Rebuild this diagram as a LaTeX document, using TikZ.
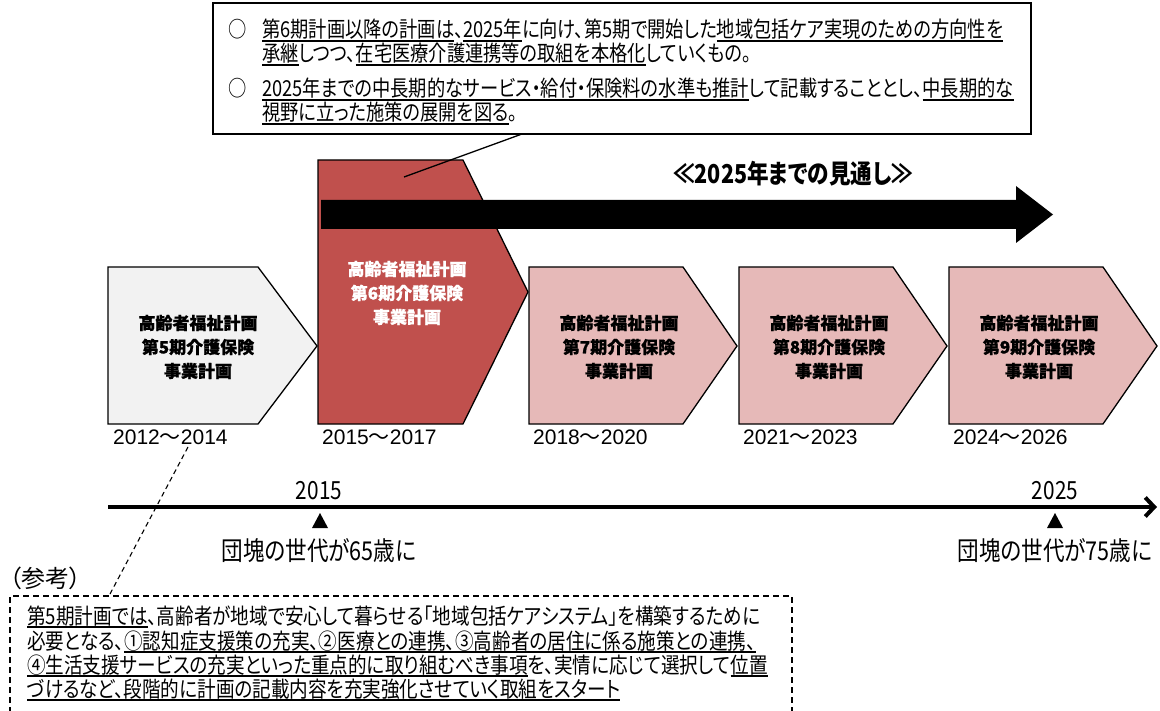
\documentclass[tikz,border=0pt]{standalone}
\usepackage{fontspec}
\usetikzlibrary{arrows.meta}
\setmainfont{Liberation Sans}
\newfontfamily\cjk{Noto Sans CJK JP}[BoldFeatures={FakeBold=0.8}]
\newfontfamily\cjkn{Noto Sans CJK JP}[FakeStretch=0.83, RawFeature=+palt]
\newfontfamily\cjkw{Noto Sans CJK JP}[FakeStretch=0.845, RawFeature=+palt]
\newfontfamily\cjkp{Noto Sans CJK JP}[RawFeature=+palt]
\newsavebox\ulbox
\newcommand\ul[1]{\sbox\ulbox{#1}\rlap{\rule[-4.2pt]{\wd\ulbox}{1.8pt}}\usebox\ulbox}
\definecolor{plangray}{HTML}{F2F2F2}
\definecolor{planred}{HTML}{C0504D}
\definecolor{planpink}{HTML}{E6B9B8}
\tikzset{
  plan/.style={draw=black, line width=1.3pt, line join=miter},
  tx/.style={inner sep=0pt, anchor=base west, font=\cjkn\fontsize{22}{26}\selectfont},
  rtx/.style={inner sep=0pt, anchor=base west, font=\cjkw\fontsize{22}{26}\selectfont},
  boxtx/.style={inner sep=0pt, align=center, font=\cjk\bfseries\fontsize{17}{24}\selectfont},
  yr/.style={inner sep=0pt, anchor=base west, font=\fontsize{21}{24}\selectfont},
  big/.style={inner sep=0pt, anchor=base, font=\cjkn\fontsize{26}{30}\selectfont},
}
\begin{document}
\begin{tikzpicture}[x=1pt,y=-1pt]
\useasboundingbox (0,0) rectangle (1160,711);
\fill[white] (0,0) rectangle (1160,711);

% plan pentagons
\draw[plan, fill=plangray] (108,267) -- (258,267) -- (317,346) -- (258,424) -- (108,424) -- cycle;
\draw[plan, fill=planred] (318,160) -- (463,160) -- (528,292) -- (463,424) -- (318,424) -- cycle;
\foreach \L in {529,739,949}{
  \draw[plan, fill=planpink] (\L,267) -- (\L+154,267) -- (\L+208,346) -- (\L+154,424) -- (\L,424) -- cycle;
}

% box texts
\node[boxtx] (p5) at (198,347) {高齢者福祉計画\\第5期介護保険\\事業計画};
\node[boxtx, text=white] (p6) at (407,293) {高齢者福祉計画\\第6期介護保険\\事業計画};
\node[boxtx] (p7) at (619,347) {高齢者福祉計画\\第7期介護保険\\事業計画};
\node[boxtx] (p8) at (829,347) {高齢者福祉計画\\第8期介護保険\\事業計画};
\node[boxtx] (p9) at (1039,347) {高齢者福祉計画\\第9期介護保険\\事業計画};

% year labels
\node[yr] (y5) at (113,444) {2012{\cjk ～}2014};
\node[yr] (y6) at (322,444) {2015{\cjk ～}2017};
\node[yr] (y7) at (533,444) {2018{\cjk ～}2020};
\node[yr] (y8) at (743,444) {2021{\cjk ～}2023};
\node[yr] (y9) at (953,444) {2024{\cjk ～}2026};

% big arrow
\fill[black] (321,200) -- (1016,200) -- (1016,186) -- (1053,214.5) -- (1016,243) -- (1016,229) -- (321,229) -- cycle;
\node[big, font=\cjkn\bfseries\fontsize{26}{30}\selectfont] (ttl) at (793,184) {≪2025年までの見通し≫};

% top note box
\node[draw=black, line width=2pt, fill=white, minimum width=818pt, minimum height=131pt, anchor=north west, inner sep=0pt] (note) at (212,2) {};
\coordinate (ctip) at (404,177);
\coordinate (cbase) at (522,134);
\draw[line width=1.3pt] (ctip) -- (cbase);

\node[tx, anchor=base] (b1) at (238,38) {○};
\node[tx] (n1) at (262,38) {\ul{第6期計画以降の計画は}、\ul{2025年}に向け、第5期で開始した\ul{地域包括ケア実現のための方向性を}};
\node[tx] (n2) at (262,62) {\ul{承継}しつつ、\ul{在宅医療介護連携等の取組を本格化}していくもの。};
\node[tx, anchor=base] (b2) at (238,97) {○};
\node[tx] (n3) at (262,97) {\ul{2025年までの中長期的なサービス・給付・保険料の水準も推計}して記載することとし、\ul{中長期的な}};
\node[tx] (n4) at (262,121) {\ul{視野に立った施策の展開を図る}。};

% timeline
\coordinate (tl0) at (108,507);
\coordinate (tl1) at (1157,507);
\draw[line width=4pt, -{Straight Barb[length=9pt,width=19pt]}] (tl0) -- (tl1);
\node[big, font=\cjkn\fontsize{25}{28}\selectfont] (d15) at (319,499) {2015};
\node[big, font=\cjkn\fontsize{25}{28}\selectfont] (d25) at (1055,499) {2025};
\fill (320,513) -- (328,528) -- (312,528) -- cycle;
\fill (1055,513) -- (1063,528) -- (1047,528) -- cycle;
\node[big] (g65) at (319,560) {団塊の世代が65歳に};
\node[big] (g75) at (1055,560) {団塊の世代が75歳に};

% reference
\coordinate (rA) at (188,447);
\coordinate (rB) at (110,594);
\draw[line width=1.1pt, dash pattern=on 5pt off 3.5pt] (rA) -- (rB);
\node[inner sep=0pt, anchor=base west, font=\cjkp\fontsize{24}{28}\selectfont] (sk) at (9,587) {（参考）};
\draw[line width=2.8pt, dash pattern=on 6pt off 4pt] (10,713) -- (10,596) -- (792,596) -- (792,713);
\node[rtx] (r1) at (27,624) {\ul{第5期計画では}、高齢者が地域で安心して暮らせる「地域包括ケアシステム」を構築するために};
\node[rtx] (r2) at (27,649) {必要となる、\ul{①認知症支援策の充実、②医療との連携、③高齢者の居住に係る施策との連携、}};
\node[rtx] (r3) at (27,673) {\ul{④生活支援サービスの充実といった重点的に取り組むべき事項}を、実情に応じて選択して\ul{位置}};
\node[rtx] (r4) at (27,697) {\ul{づけるなど、段階的に計画の記載内容を充実強化させていく取組をスタート}};
\end{tikzpicture}
\end{document}
